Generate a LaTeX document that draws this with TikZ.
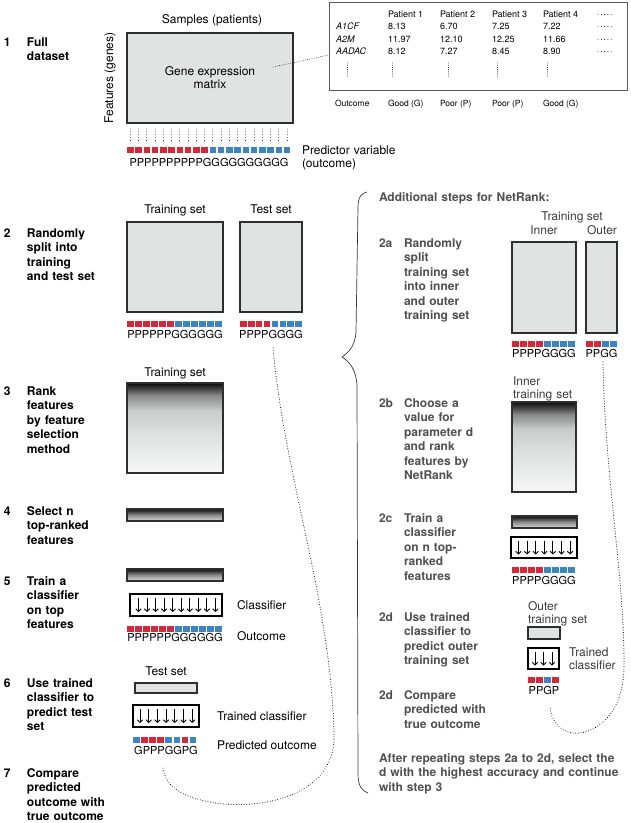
\documentclass[tikz,border=0pt]{standalone}
\usepackage{fontspec}
\setmainfont{TeX Gyre Heros}
\usetikzlibrary{arrows.meta,calc}
\definecolor{sqR}{HTML}{D7283A}
\definecolor{sqB}{HTML}{3A85C6}
\definecolor{boxfill}{HTML}{E1E2E2}
\definecolor{boxline}{HTML}{2E2E2E}
\definecolor{rgray}{HTML}{505050}
\definecolor{lgray}{HTML}{3A3A3A}
\definecolor{tblline}{HTML}{5A5A5A}
\definecolor{gA}{HTML}{F7F7F7}
\definecolor{gB}{HTML}{DEDFDF}
\definecolor{gC}{HTML}{C9CACA}
\definecolor{gD}{HTML}{8A8A8A}
\definecolor{gE}{HTML}{0A0A0A}
\definecolor{bA}{HTML}{D9DADA}
\definecolor{bB}{HTML}{8C8C8C}
\pgfdeclareverticalshading{rankgrad}{100bp}{color(0bp)=(gA); color(25bp)=(gA); color(47.5bp)=(gB); color(60bp)=(gC); color(68bp)=(gD); color(75bp)=(gE); color(100bp)=(gE)}
\pgfdeclareverticalshading{bargrad}{100bp}{color(0bp)=(bA); color(25bp)=(bA); color(50bp)=(bB); color(75bp)=(gE); color(100bp)=(gE)}
\newcommand\sqrow[4]{%
  \foreach \cc [count=\i from 0] in {#4} \fill[\cc] ({#1+\i*#3},#2) rectangle ++(6.6,6.4);}
\newcommand\arrrow[5]{%
  \foreach \i in {1,...,#3} \draw[clsarrow] ({#1+(\i-1)*#2},#4) -- ({#1+(\i-1)*#2},#5);}
\begin{document}
\begin{tikzpicture}[x=1pt,y=-1pt,
  every node/.style={inner sep=0pt, outer sep=0pt},
  lab/.style={font=\fontsize{12}{13}\selectfont},
  labm/.style={font=\fontsize{12}{13}\selectfont, anchor=base west, text width=120pt, align=left},
  stepnum/.style={anchor=base west, font=\fontsize{12}{14.5}\selectfont\bfseries},
  steptxt/.style={anchor=base west, text width=150pt, align=left, font=\fontsize{12}{14.5}\selectfont\bfseries},
  rstep/.style={text=rgray},
  mat/.style={draw=boxline, line width=1.2pt, fill=boxfill, anchor=north west},
  grad/.style={draw=boxline, line width=1.2pt, shading=rankgrad, anchor=north west},
  bar/.style={draw=boxline, line width=1.2pt, shading=bargrad, anchor=north west},
  clsbox/.style={draw=black, line width=1.3pt, fill=white, anchor=north west},
  letters/.style={font=\fontsize{11}{13}\selectfont, anchor=base},
  tbl/.style={font=\fontsize{9}{11}\selectfont, anchor=base west},
  tblo/.style={font=\fontsize{8.5}{10}\selectfont, anchor=base west},
  dotline/.style={line width=1pt, dash pattern=on 0.01pt off 2.6pt, line cap=round},
  fdot/.style={line width=0.8pt, dash pattern=on 0.01pt off 2.2pt, line cap=round},
  clsarrow/.style={line width=0.9pt, -{Straight Barb[length=2.6pt,width=5.5pt]}},
]
\useasboundingbox (0,0) rectangle (630,823);

% ---------- Step 1
\node[stepnum] (n1) at (4,46) {1};
\node[steptxt] (t1) at (27,46) {Full\\dataset};
\node[lab, anchor=base] (samples) at (212,23) {Samples (patients)};
\node[lab, rotate=90] (features) at (110,78) {Features (genes)};
\node[mat, minimum width=166pt, minimum height=90pt, align=center, lab] (M) at (127,33) {Gene expression\\matrix};
\foreach \i in {0,...,19} \draw[fdot, dash pattern=on 0.01pt off 2.9pt] ({130.3+\i*8.25},129) -- ({130.3+\i*8.25},143);
\sqrow{127}{147}{8.25}{sqR,sqR,sqR,sqR,sqR,sqR,sqR,sqR,sqR,sqR,sqB,sqB,sqB,sqB,sqB,sqB,sqB,sqB,sqB,sqB}
\node[letters] (L1) at (209,166) {PPPPPPPPPPGGGGGGGGGG};
\node[labm] (pv) at (302,154) {Predictor variable\\(outcome)};

% table
\node[draw=tblline, line width=1pt, minimum width=298pt, minimum height=88pt, anchor=north west] (T) at (329,2) {};
\node[tbl] (h1) at (388,17.5) {Patient 1};
\node[tbl] (h2) at (440,17.5) {Patient 2};
\node[tbl] (h3) at (492,17.5) {Patient 3};
\node[tbl] (h4) at (543,17.5) {Patient 4};
\node[tbl] (r1) at (336,29.5) {\itshape A1CF};
\node[tbl] (r2) at (336,42) {\itshape A2M};
\node[tbl] (r3) at (336,54.5) {\itshape AADAC};
\node[tbl] (v11) at (388,29.5) {8.13};
\node[tbl] (v12) at (440,29.5) {6.70};
\node[tbl] (v13) at (492,29.5) {7.25};
\node[tbl] (v14) at (543,29.5) {7.22};
\node[tbl] (v21) at (388,42) {11.97};
\node[tbl] (v22) at (440,42) {12.10};
\node[tbl] (v23) at (492,42) {12.25};
\node[tbl] (v24) at (543,42) {11.66};
\node[tbl] (v31) at (388,54.5) {8.12};
\node[tbl] (v32) at (440,54.5) {7.27};
\node[tbl] (v33) at (492,54.5) {8.45};
\node[tbl] (v34) at (543,54.5) {8.90};
\foreach \yy in {14.5,26.5,39,51.5} \draw[fdot, dash pattern=on 0.01pt off 3.3pt] (598,\yy) -- (612,\yy);
\foreach \xx in {347,392,448,497,547} \draw[fdot] (\xx,63) -- (\xx,77);
\node[tblo] (o0) at (335,106) {Outcome};
\node[tblo] (o1) at (388,106) {Good (G)};
\node[tblo] (o2) at (440,106) {Poor (P)};
\node[tblo] (o3) at (492,106) {Poor (P)};
\node[tblo] (o4) at (543,106) {Good (G)};
\coordinate (mdot) at (273,67);
\coordinate (tdot) at (329,55);
\draw[fdot] (mdot) -- (tdot);

% ---------- Step 2
\node[stepnum] (n2) at (4,237) {2};
\node[steptxt] (t2) at (27,237) {Randomly\\split into\\training\\and test set};
\node[lab, anchor=base] (trl2) at (175,213) {Training set};
\node[lab, anchor=base] (tel2) at (271,213) {Test set};
\node[mat, minimum width=96pt, minimum height=90pt] (tr2) at (127,222) {};
\node[mat, minimum width=62pt, minimum height=90pt] (te2) at (240,222) {};
\sqrow{127}{321}{8}{sqR,sqR,sqR,sqR,sqR,sqR,sqB,sqB,sqB,sqB,sqB,sqB}
\sqrow{240}{321}{7.9}{sqR,sqR,sqR,sqR,sqB,sqB,sqB,sqB}
\node[letters] (L2a) at (175,338) {PPPPPPGGGGGG};
\node[letters] (L2b) at (271,338) {PPPPGGGG};

% ---------- Step 3
\node[stepnum] (n3) at (4,395) {3};
\node[steptxt] (t3) at (27,395) {Rank\\features\\by feature\\selection\\method};
\node[lab, anchor=base] (trl3) at (175,376) {Training set};
\node[grad, minimum width=96pt, minimum height=90pt] (g3) at (127,383) {};

% ---------- Step 4
\node[stepnum] (n4) at (4,515) {4};
\node[steptxt] (t4) at (27,515) {Select n\\top-ranked\\features};
\node[bar, minimum width=96pt, minimum height=12pt] (g4) at (127,509) {};

% ---------- Step 5
\node[stepnum] (n5) at (4,585) {5};
\node[steptxt] (t5) at (27,585) {Train a\\classifier\\on top\\features};
\node[bar, minimum width=96pt, minimum height=12pt] (g5) at (127,569) {};
\node[clsbox, minimum width=92pt, minimum height=22pt] (c5) at (130,594) {};
\arrrow{138.5}{8.55}{10}{598}{612}
\node[lab, anchor=base west] (cl5) at (237,609) {Classifier};
\sqrow{127}{626}{8}{sqR,sqR,sqR,sqR,sqR,sqR,sqB,sqB,sqB,sqB,sqB,sqB}
\node[letters] (L5) at (175,641) {PPPPPPGGGGGG};
\node[lab, anchor=base west] (oc5) at (237,640) {Outcome};

% ---------- Step 6
\node[stepnum] (n6) at (4,687) {6};
\node[steptxt] (t6) at (27,687) {Use trained\\classifier to\\predict test\\set};
\node[lab, anchor=base] (tel6) at (166,675) {Test set};
\node[mat, minimum width=62pt, minimum height=10pt] (te6) at (135,683) {};
\node[clsbox, minimum width=66pt, minimum height=22pt] (c6) at (133,705) {};
\arrrow{140}{8.7}{7}{709}{723}
\node[lab, anchor=base west] (tc6) at (217,720) {Trained classifier};
\sqrow{133}{737}{8.1}{sqB,sqR,sqR,sqR,sqB,sqB,sqR,sqB}
\node[letters] (L6) at (166,754) {GPPPGGPG};
\node[lab, anchor=base west] (po6) at (217,749) {Predicted outcome};

% ---------- Step 7
\node[stepnum] (n7) at (4,777) {7};
\node[steptxt] (t7) at (27,777) {Compare\\predicted\\outcome with\\true outcome};

% dotted loop left
\coordinate (ls) at (273,348);
\coordinate (le) at (163,768);
\draw[dotline] (ls) .. controls (285,480) and (331,600) .. (334,735)
  .. controls (336,800) and (250,812) .. (205,801)
  .. controls (178,795) and (165,784) .. (le);

% ---------- Brace
\draw[line width=0.7pt, draw=lgray] (367,192) .. controls (361,193) and (358,198) .. (358,207)
  -- (356,332) .. controls (355,346) and (349,352) .. (342,357)
  .. controls (350,362) and (356,370) .. (357,385)
  -- (358,774) .. controls (358,786) and (362,791) .. (368,793);

% ---------- Right side
\node[steptxt, rstep, text width=250pt] (add) at (379,201) {Additional steps for NetRank:};

% 2a
\node[stepnum, rstep] (n2a) at (379,247) {2a};
\node[steptxt, rstep] (t2a) at (404,247) {Randomly\\split\\training set\\into inner\\and outer\\training set};
\node[lab, anchor=base, text=lgray] (trs) at (572,220) {Training set};
\node[lab, anchor=base, text=lgray] (inl) at (544,234) {Inner};
\node[lab, anchor=base, text=lgray] (outl) at (602,234) {Outer};
\node[mat, minimum width=64pt, minimum height=91pt] (in2a) at (512,242) {};
\node[mat, minimum width=31pt, minimum height=91pt] (out2a) at (586,242) {};
\sqrow{512}{341}{8}{sqR,sqR,sqR,sqR,sqB,sqB,sqB,sqB}
\sqrow{586}{341}{8}{sqR,sqR,sqB,sqB}
\node[letters] (L2ai) at (544,357) {PPPPGGGG};
\node[letters] (L2ao) at (601.5,357) {PPGG};

% 2b
\node[stepnum, rstep] (n2b) at (379,407) {2b};
\node[steptxt, rstep] (t2b) at (404,407) {Choose a\\value for\\parameter d\\and rank\\features by\\NetRank};
\node[labm, text=lgray] (its) at (513,385) {Inner\\training set};
\node[grad, minimum width=64pt, minimum height=90pt] (g2b) at (512,402) {};

% 2c
\node[stepnum, rstep] (n2c) at (379,522) {2c};
\node[steptxt, rstep] (t2c) at (404,522) {Train a\\classifier\\on n top-\\ranked\\features};
\node[bar, minimum width=65pt, minimum height=12pt] (g2c) at (512,516) {};
\node[clsbox, minimum width=66pt, minimum height=21pt] (c2c) at (511,537) {};
\arrrow{518.5}{8.6}{7}{541}{554.5}
\sqrow{512}{567}{8}{sqR,sqR,sqR,sqR,sqB,sqB,sqB,sqB}
\node[letters] (L2c) at (544,584) {PPPPGGGG};

% 2d
\node[stepnum, rstep] (n2d) at (379,621) {2d};
\node[steptxt, rstep] (t2d) at (404,621) {Use trained\\classifier to\\predict outer\\training set};
\node[labm, text=lgray] (ots) at (528,610) {Outer\\training set};
\node[mat, minimum width=32pt, minimum height=12pt] (o2d) at (528,627) {};
\node[clsbox, minimum width=31pt, minimum height=21pt] (c2d) at (528,648) {};
\arrrow{535}{8.5}{3}{652}{665.5}
\node[labm, text=lgray] (tc2d) at (569,656) {Trained\\classifier};
\sqrow{528}{677}{8}{sqR,sqR,sqB,sqR}
\node[letters] (L2d) at (544,694) {PPGP};

% 2d compare
\node[stepnum, rstep] (n2e) at (379,699) {2d};
\node[steptxt, rstep] (t2e) at (404,699) {Compare\\predicted with\\true outcome};

\node[steptxt, rstep, text width=250pt] (after) at (379,762) {After repeating steps 2a to 2d, select the\\d with the highest accuracy and continue\\with step 3};

% dotted loop right
\coordinate (rs) at (603,362);
\coordinate (re) at (550,707);
\draw[dotline] (rs) .. controls (605,480) and (625,580) .. (624,668)
  .. controls (623,720) and (590,735) .. (573,733)
  .. controls (558,731) and (551,719) .. (re);
\end{tikzpicture}
\end{document}
